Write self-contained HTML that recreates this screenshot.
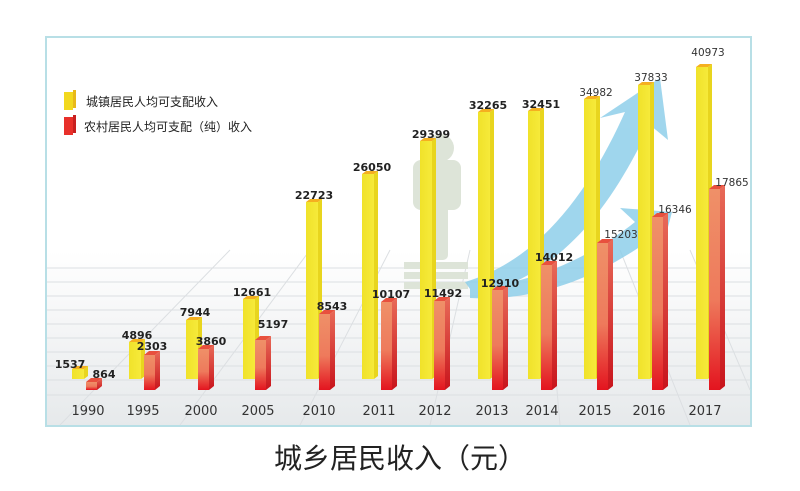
<!DOCTYPE html>
<html><head><meta charset="utf-8"><style>
body{margin:0;background:#fff;width:800px;height:491px;overflow:hidden}
svg{display:block}
text{font-family:"DejaVu Sans","Liberation Sans",sans-serif}
.cj{font-family:"Liberation Sans","Noto Sans CJK SC",sans-serif}
</style></head><body>
<svg width="800" height="491" viewBox="0 0 800 491">
<defs>
<linearGradient id="bg" x1="0" y1="0" x2="0" y2="1">
<stop offset="0" stop-color="#fff"/><stop offset="0.55" stop-color="#fff"/><stop offset="1" stop-color="#e6e9eb"/></linearGradient>
<linearGradient id="rf" x1="0" y1="0" x2="0" y2="1">
<stop offset="0" stop-color="#ef9068"/><stop offset="0.55" stop-color="#ee7a5c"/><stop offset="1" stop-color="#e3141f"/></linearGradient>
<linearGradient id="rs" x1="0" y1="0" x2="0" y2="1">
<stop offset="0" stop-color="#e86a58"/><stop offset="1" stop-color="#c8141c"/></linearGradient>
<linearGradient id="yf" x1="0" y1="0" x2="1" y2="0">
<stop offset="0" stop-color="#f0e22a"/><stop offset="1" stop-color="#f6ea3a"/></linearGradient>
</defs>
<rect x="46" y="37" width="705" height="389" fill="url(#bg)" stroke="#b8dfe6" stroke-width="2"/>
<g stroke="#dcdfe2" stroke-width="1" fill="none">
<path d="M47 395H750M47 380H750M47 366H750M47 352H750M47 338H750M47 324H750M47 310H750M47 296H750M47 282H750M47 268H750"/>
<path d="M60 425L230 250M180 425L310 250M300 425L390 250M430 425L470 250M560 425L545 250M690 425L620 250M750 390L690 250"/>
</g>
<!-- person -->
<g fill="#dde4d8">
<circle cx="440" cy="148" r="14"/>
<rect x="413" y="160" width="48" height="50" rx="8"/>
<rect x="428" y="200" width="20" height="60" rx="5"/>
<rect x="404" y="262" width="64" height="7"/><rect x="404" y="272" width="64" height="7"/><rect x="404" y="282" width="64" height="7"/>
</g>
<!-- arrows -->
<g fill="#8fcfea" opacity="0.85">
<path d="M465 282 C540 260 590 190 625 112 L600 118 L660 78 L668 140 L650 125 C610 210 560 275 475 296 Z"/>
<path d="M470 288 C540 284 600 250 635 222 L620 208 L672 212 L662 250 L650 240 C600 275 540 302 470 298Z"/>
</g>
<g id="bars"></g>
<g font-size="11" font-weight="bold" fill="#222" text-anchor="middle">
<text x="70" y="368">1537</text><text x="104" y="378">864</text>
<text x="137" y="339">4896</text><text x="152" y="350">2303</text>
<text x="195" y="316">7944</text><text x="211" y="345">3860</text>
<text x="252" y="296">12661</text><text x="273" y="328">5197</text>
<text x="314" y="199">22723</text><text x="332" y="310">8543</text>
<text x="372" y="171">26050</text><text x="391" y="298">10107</text>
<text x="431" y="138">29399</text><text x="443" y="297">11492</text>
<text x="488" y="109">32265</text><text x="500" y="287">12910</text>
<text x="541" y="108">32451</text><text x="554" y="261">14012</text>
</g>
<g font-size="10.5" fill="#333" text-anchor="middle">
<text x="596" y="96">34982</text><text x="621" y="238">15203</text>
<text x="651" y="81">37833</text><text x="675" y="213">16346</text>
<text x="708" y="56">40973</text><text x="732" y="186">17865</text>
</g>
<g font-size="13" fill="#333" text-anchor="middle">
<text x="88" y="415">1990</text><text x="143" y="415">1995</text><text x="201" y="415">2000</text><text x="258" y="415">2005</text><text x="319" y="415">2010</text><text x="379" y="415">2011</text><text x="435" y="415">2012</text><text x="492" y="415">2013</text><text x="542" y="415">2014</text><text x="595" y="415">2015</text><text x="649" y="415">2016</text><text x="705" y="415">2017</text>
</g>
<rect x="64" y="92" width="9" height="18" fill="#f2d81e"/><rect x="73" y="90" width="3" height="18" fill="#e8b81a"/>
<rect x="64" y="117" width="9" height="18" fill="#e8302a"/><rect x="73" y="115" width="3" height="18" fill="#c82020"/>
<text class="cj" x="86" y="106" font-size="12" fill="#222">城镇居民人均可支配收入</text>
<text class="cj" x="84" y="131" font-size="12" fill="#222">农村居民人均可支配（纯）收入</text>
<text class="cj" x="400" y="468" font-size="28" fill="#222" text-anchor="middle">城乡居民收入（元）</text>
</svg>
<script>
var y=[[72,369],[129,342],[186,320],[243,299],[306,202],[362,174],[420,141],[478,112],[528,111],[584,99],[638,85],[696,67]];
var r=[[86,382],[144,355],[198,349],[255,340],[319,314],[381,302],[434,301],[492,290],[541,265],[597,243],[652,217],[709,189]];
var s='';
y.forEach(function(b){var x=b[0],t=b[1],w=12;
s+='<polygon points="'+(x+w)+','+t+' '+(x+w+4)+','+(t-3)+' '+(x+w+4)+','+376+' '+(x+w)+','+379+'" fill="#e8d51e"/>';
s+='<polygon points="'+x+','+t+' '+(x+4)+','+(t-3)+' '+(x+w+4)+','+(t-3)+' '+(x+w)+','+t+'" fill="#f5b020"/>';
s+='<rect x="'+x+'" y="'+t+'" width="'+w+'" height="'+(379-t)+'" fill="url(#yf)"/>';});
r.forEach(function(b){var x=b[0],t=b[1],w=11;
s+='<polygon points="'+(x+w)+','+t+' '+(x+w+5)+','+(t-4)+' '+(x+w+5)+','+386+' '+(x+w)+','+390+'" fill="url(#rs)"/>';
s+='<polygon points="'+x+','+t+' '+(x+5)+','+(t-4)+' '+(x+w+5)+','+(t-4)+' '+(x+w)+','+t+'" fill="#e8503e"/>';
s+='<rect x="'+x+'" y="'+t+'" width="'+w+'" height="'+(390-t)+'" fill="url(#rf)"/>';});
document.getElementById('bars').innerHTML=s;
</script>
</body></html>
